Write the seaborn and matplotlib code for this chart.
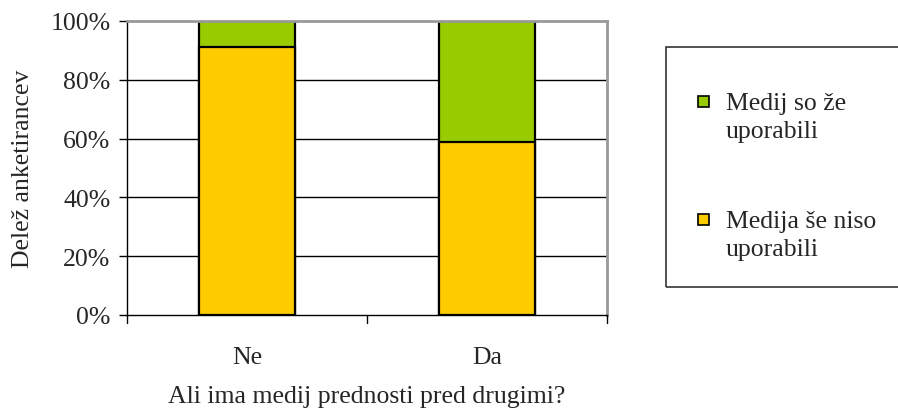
import matplotlib
matplotlib.use("Agg")
import matplotlib.pyplot as plt
from matplotlib.patches import Rectangle
from matplotlib.ticker import FuncFormatter, FixedLocator
import seaborn as sns
import pandas as pd

categories = ["Ne", "Da"]
not_used = [91, 59]          # Medija še niso uporabili (%)
used = [9, 41]               # Medij so že uporabili (%)
series_labels = ["Medij so že\nuporabili", "Medija še niso\nuporabili"]
y_ticks = [0, 20, 40, 60, 80, 100]

green = "#99CC00"
yellow = "#FFCC00"

sns.set_style("white")
plt.rcParams["font.family"] = ["Liberation Serif", "DejaVu Serif"]
fs = 18.5

df = pd.DataFrame({
    "cat": categories,
    "total": [a + b for a, b in zip(not_used, used)],
    "base": not_used,
})

fig = plt.figure(figsize=(8.98, 4.14), dpi=100)
ax_w, ax_h = 607 - 127, 316 - 22
ax = fig.add_axes([127 / 898, 1 - 316 / 414, ax_w / 898, ax_h / 414])

# gridlines behind bars
for t in y_ticks[1:-1]:
    ax.axhline(t, color="black", lw=1.0, zorder=0)

sns.barplot(data=df, x="cat", y="total", color=green, width=0.4,
            edgecolor="black", linewidth=1.6, saturation=1, ax=ax, zorder=2)
sns.barplot(data=df, x="cat", y="base", color=yellow, width=0.4,
            edgecolor="black", linewidth=1.6, saturation=1, ax=ax, zorder=3)

ax.set_xlim(-0.5, 1.5)
ax.set_ylim(0, 100)
ax.yaxis.set_major_locator(FixedLocator(y_ticks))
ax.yaxis.set_major_formatter(FuncFormatter(lambda v, p: f"{int(v)}%"))
ax.tick_params(axis="y", direction="out", length=6, width=1, color="black",
               labelsize=fs, pad=6, left=True)
ax.set_xticks([0, 1])
ax.set_xticklabels(categories)
ax.tick_params(axis="x", length=0, labelsize=fs, pad=22)
# category boundary ticks on the bottom axis
for xb in [-0.5, 0.5, 1.5]:
    ax.plot([xb, xb], [0, -2.7], color="black", lw=1, clip_on=False, zorder=5)

for s in ["top", "right"]:
    ax.spines[s].set_color("#999999")
    ax.spines[s].set_linewidth(2)
for s in ["left", "bottom"]:
    ax.spines[s].set_color("black")
    ax.spines[s].set_linewidth(1)
    ax.spines[s].set_visible(True)

ax.set_xlabel("Ali ima medij prednosti pred drugimi?", fontsize=fs)
ax.xaxis.set_label_coords(0.5, -(386 - 316) / ax_h)
ax.set_ylabel("Delež anketirancev", fontsize=fs)
ax.yaxis.set_label_coords(-(127 - 34) / ax_w, 0.5)

# legend box
fig.add_artist(Rectangle((666 / 898, 1 - 288 / 414), 0.4, (288 - 48) / 414,
                         transform=fig.transFigure, fill=False,
                         edgecolor="#333333", lw=1.2))
colors = [green, yellow]
ys = [102, 220]
for lab, c, yy in zip(series_labels, colors, ys):
    fig.add_artist(Rectangle((698 / 898, 1 - (yy + 6) / 414), 11 / 898, 11 / 414,
                             transform=fig.transFigure, facecolor=c,
                             edgecolor="black", lw=1.2))
    fig.text(726 / 898, 1 - (yy - 9) / 414, lab, fontsize=fs, va="top",
             ha="left", linespacing=1.35)

fig.savefig("out.png", dpi=100)
